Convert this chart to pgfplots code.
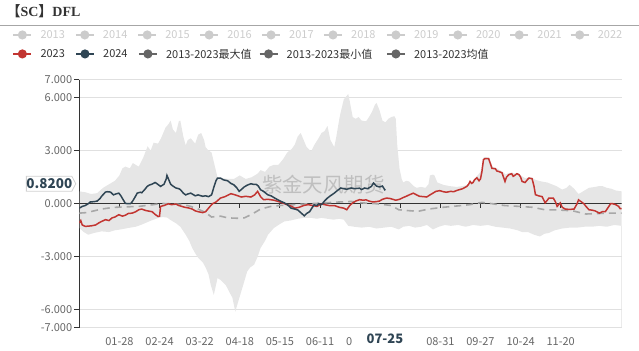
\documentclass[border=0pt]{standalone}
\usepackage{fontspec}
\setmainfont{Noto Sans CJK SC}
\newfontfamily\serifb{Liberation Serif}
\usepackage{pgfplots}
\pgfplotsset{compat=1.18}
\usepgfplotslibrary{fillbetween}
\definecolor{cred}{HTML}{C23531}
\definecolor{cblue}{HTML}{2F4554}
\definecolor{cband}{HTML}{E6E6E6}
\definecolor{cmean}{HTML}{A8A8A8}
\definecolor{cgrid}{HTML}{E0E0E0}
\definecolor{caxis}{HTML}{333333}
\definecolor{clab}{HTML}{666666}
\definecolor{cinact}{HTML}{CCCCCC}
\definecolor{cdark}{HTML}{666666}
\definecolor{ctext}{HTML}{333333}
\newcommand\legitem[5]{%
  \draw[#3, line width=1.5bp] (#1-9,#2) -- (#1+9,#2);
  \fill[#3] (#1,#2) circle (4.6);
  \node[anchor=west, inner sep=0pt, text=#5, font=\fontsize{11bp}{13bp}\selectfont] at (#1+18,#2) {#4};}
\begin{document}
\begin{tikzpicture}
\begin{scope}[x=1bp,y=1bp]
\path (0,0) rectangle (639,351);
% title
\node[anchor=base west, inner sep=0pt, text=ctext, font=\fontsize{14bp}{16bp}\selectfont] at (6,334)
  {{\bfseries【}{\serifb\bfseries SC}{\bfseries】}{\serifb\bfseries DFL}};
\draw[color=black!35, line width=0.8bp] (0,326) -- (639,326);
% legend row 1
\legitem{22}{316}{cinact}{2013}{cinact}
\legitem{84.5}{316}{cinact}{2014}{cinact}
\legitem{147}{316}{cinact}{2015}{cinact}
\legitem{209}{316}{cinact}{2016}{cinact}
\legitem{271}{316}{cinact}{2017}{cinact}
\legitem{333}{316}{cinact}{2018}{cinact}
\legitem{396}{316}{cinact}{2019}{cinact}
\legitem{458}{316}{cinact}{2020}{cinact}
\legitem{519.5}{316}{cinact}{2021}{cinact}
\legitem{580}{316}{cinact}{2022}{cinact}
% legend row 2
\legitem{22}{297}{cred}{2023}{ctext}
\legitem{84.7}{297}{cblue}{2024}{ctext}
\legitem{147.7}{297}{cdark}{2013-2023最大值}{ctext}
\legitem{268.5}{297}{cdark}{2013-2023最小值}{ctext}
\legitem{396}{297}{cdark}{2013-2023均值}{ctext}
\end{scope}

\begin{axis}[
  at={(79bp,23bp)}, anchor=south west,
  scale only axis, width=543bp, height=248bp,
  xmin=0, xmax=365, ymin=-7, ymax=7,
  axis y line*=left, axis x line*=bottom,
  y axis line style={draw=caxis, line width=0.9bp, -},
  x axis line style={draw=cgrid, line width=0.9bp, -},
  ytick={-7,-6,-3,0,3,6,7},
  yticklabels={-7.000,-6.000,-3.000,0.000,3.000,6.000,7.000},
  ymajorgrids, grid style={draw=cgrid, line width=0.9bp},
  tick align=outside, major tick length=5bp,
  ytick style={draw=caxis, line width=0.9bp},
  xtick={27,54,81,108,135,162,189,243,270,297,324},
  xticklabels={01-28,02-24,03-22,04-18,05-15,06-11,07-08,08-31,09-27,10-24,11-20},
  xtick style={draw=none},
  xticklabel style={anchor=base, yshift=-12.5bp, inner sep=0pt},
  yticklabel style={anchor=east, inner sep=0pt, xshift=-2bp},
  tick label style={font=\fontsize{11bp}{13bp}\selectfont, text=clab},
]
\addplot[draw=none, name path=max] coordinates {
(0,0.7)(4,0.65)(8,0.55)(12,0.6)(16,0.9)(20,1.1)(24,1.3)(27,1.6)(29,2.0)(31,2.1)(34,2.0)(36,2.3)(38,2.2)(40,2.1)(43,2.6)(46,3.25)(48,3.0)(50,3.45)(53,3.4)(55,3.7)(58,4.3)(60,4.5)(61.5,4.7)(63,4.2)(65,4.0)(67,4.66)(68,4.7)(70,3.8)(71.6,3.3)(73,3.6)(75,3.7)(78,3.4)(80,3.9)(82,4.0)(84,3.6)(85,3.2)(87,3.0)(89,2.9)(91,2.2)(93,1.5)(96,1.45)(100,1.4)(104,1.4)(108,1.6)(112,1.4)(116,1.5)(120,1.7)(122,1.9)(125,1.8)(128,2.1)(131,2.2)(134,2.2)(137,2.5)(140,2.9)(143,3.1)(145,3.34)(147,3.8)(149,4.0)(151,3.6)(153,3.2)(156,2.96)(158,3.3)(161,3.7)(163,4.0)(165,4.1)(167,4.4)(169,3.6)(171.6,3.2)(173,3.8)(175,4.8)(176,5.2)(178,5.9)(180,6.1)(181,6.2)(182,5.8)(184,4.9)(186,4.8)(188,4.9)(190,4.7)(193,4.66)(195,4.9)(197,5.2)(199,5.6)(200,5.7)(202,5.3)(204,4.7)(206,4.6)(208,4.8)(210,4.9)(212,4.95)(213,4.8)(214,3.3)(215.5,2.0)(217,1.4)(218,1.2)(220,1.3)(222,1.26)(225,1.0)(227,0.9)(230,0.95)(233,0.9)(235,1.1)(236,1.6)(238,1.65)(239,1.6)(241,1.2)(245,1.07)(249,1.0)(254,0.95)(258,1.0)(261,1.05)(265,1.3)(268,1.6)(270,1.8)(271,2.2)(272,2.6)(273,2.65)(276,2.6)(278,2.1)(281,2.0)(283,1.9)(285,1.8)(287,1.65)(289,1.75)(291,1.75)(294,1.7)(297,1.6)(300,1.45)(303,1.5)(305,1.45)(307,1.35)(311,1.26)(315,1.2)(318,1.1)(321,1.0)(325,0.8)(328,0.9)(330,1.07)(333,0.85)(336,0.55)(339,0.7)(343,0.9)(347,0.95)(350,1.0)(352,1.0)(355,0.9)(358,0.85)(361,0.75)(365,0.7)
};
\addplot[draw=none, name path=min] coordinates {
(0,-1.37)(3,-1.6)(6,-1.75)(10,-1.65)(15,-1.56)(20,-1.6)(24,-1.5)(28,-1.45)(33,-1.37)(38,-1.3)(42,-1.18)(47,-1.0)(50,-0.9)(53,-0.81)(56,-0.75)(59,-0.78)(62,-0.95)(65,-1.1)(68,-1.3)(71.6,-1.75)(74,-2.1)(76,-2.5)(78,-2.8)(80,-3.06)(83,-3.3)(85,-3.6)(87,-4.0)(88.5,-4.6)(90.5,-5.15)(92,-4.6)(93,-4.2)(95,-4.3)(98.6,-4.6)(101,-5.0)(103,-5.3)(105,-6.1)(106,-5.8)(109,-4.96)(111,-4.4)(113,-3.83)(115,-3.6)(117.6,-3.45)(120,-3.0)(122,-2.5)(125,-2.1)(127,-1.75)(131,-1.37)(134,-1.2)(138,-1.0)(142,-0.95)(147,-0.85)(151,-0.8)(156,-0.8)(160,-0.85)(163,-0.8)(167,-0.85)(171,-0.9)(175,-0.85)(178,-0.9)(181,-1.25)(185,-1.3)(190,-1.35)(195,-1.3)(200,-1.4)(205,-1.35)(210,-1.3)(215,-1.45)(218,-1.3)(222,-1.25)(226,-1.35)(230,-1.3)(234,-1.2)(238,-1.45)(242,-1.3)(246,-1.2)(250,-1.25)(255,-1.2)(260,-1.3)(265,-1.2)(270,-1.25)(275,-1.2)(280,-1.3)(285,-1.35)(290,-1.4)(295,-1.5)(298,-1.6)(302,-1.6)(306,-1.75)(310,-1.85)(313,-1.7)(316,-1.65)(320,-1.5)(325,-1.4)(330,-1.35)(335,-1.35)(340,-1.3)(345,-1.3)(350,-1.25)(355,-1.3)(360,-1.2)(365,-1.25)
};
\addplot[fill=cband, draw=none] fill between[of=max and min];
\node[text=black!25, font=\fontsize{20.5bp}{22bp}\selectfont] at (axis cs:164.3,1.07) {紫金天风期货};
\draw[cgrid, line width=0.9bp] (axis cs:365,-7) -- (axis cs:365,-1.25);
\draw[caxis, line width=0.9bp] (axis cs:0,-7) -- (axis cs:0,7);
\draw[caxis, line width=0.9bp] (axis cs:0,0) -- (axis cs:365,0);
\pgfplotsinvokeforeach{27,54,81,108,135,162,189,216,243,270,297,324}{
  \draw[caxis, line width=0.9bp] (axis cs:#1,0) -- ++(0pt,-4bp);
}
\addplot[cmean, line width=1.6bp, dash pattern=on 7bp off 5bp] coordinates {
(0,-0.53)(5,-0.5)(10,-0.4)(15,-0.3)(20,-0.24)(25,-0.2)(30,-0.18)(40,-0.15)(50,-0.05)(55,0.02)(60,0.0)(65,-0.02)(70,-0.05)(75,-0.15)(80,-0.3)(85,-0.5)(89,-0.75)(95,-0.7)(100,-0.8)(106,-0.82)(111,-0.8)(116,-0.6)(122,-0.3)(129,-0.15)(135,-0.1)(145,-0.05)(155,0.0)(165,0.05)(175,0.1)(183,0.13)(190,0.05)(200,0.0)(210,-0.1)(215,-0.34)(220,-0.38)(228,-0.43)(235,-0.3)(245,-0.2)(255,-0.12)(263,-0.05)(271,0.08)(278,0.0)(286,-0.1)(296,-0.15)(305,-0.2)(314,-0.35)(322,-0.35)(332,-0.4)(341,-0.58)(350,-0.55)(358,-0.53)(365,-0.53)
};
\addplot[cred, line width=1.5bp] coordinates {
(0,-1.09)(1,-0.95)(2,-1.2)(4,-1.28)(8,-1.25)(11,-1.2)(13,-1.09)(15,-1.0)(17.6,-0.9)(20,-0.95)(22,-0.8)(24,-0.75)(26.6,-0.62)(29,-0.7)(31,-0.65)(33,-0.55)(35.6,-0.53)(38,-0.45)(40,-0.34)(42,-0.3)(44.6,-0.38)(47,-0.42)(49,-0.45)(51,-0.6)(53,-0.72)(54,-0.7)(54.7,-0.15)(57,-0.1)(60,0.0)(62,-0.05)(65,-0.02)(67,-0.1)(69,-0.15)(71,-0.2)(73.6,-0.24)(76,-0.3)(78,-0.4)(80,-0.45)(83,-0.5)(85,-0.45)(86,-0.35)(88,-0.15)(89.6,0.0)(92,0.1)(95,0.32)(98,0.4)(102,0.57)(105,0.5)(109,0.38)(112,0.42)(115.5,0.38)(118,0.5)(120,0.7)(122,0.4)(124,0.23)(127,0.25)(131,0.2)(135,0.1)(140,-0.06)(143,-0.15)(145,-0.25)(148,-0.2)(151,-0.1)(154,-0.05)(157,-0.1)(160,-0.15)(163,0.0)(165,-0.05)(168,-0.1)(171.6,-0.1)(175,-0.2)(178,-0.25)(180,-0.34)(182,-0.1)(184,0.05)(186,0.15)(188.6,0.23)(191,0.2)(193,0.22)(195,0.15)(197.7,0.1)(200,0.12)(202,0.15)(204,0.25)(206.7,0.32)(209,0.3)(211,0.25)(213,0.2)(215.5,0.25)(218,0.35)(220,0.42)(222,0.5)(224.8,0.6)(227,0.5)(229,0.42)(232,0.4)(233.8,0.38)(236,0.5)(238,0.6)(240,0.7)(242.6,0.74)(245,0.68)(247,0.65)(250,0.7)(252,0.68)(254,0.75)(256,0.8)(258,0.85)(260.8,0.98)(262,1.1)(263,1.26)(264,1.15)(265,1.2)(266,1.35)(267.6,1.47)(269,1.3)(270,1.4)(271,1.83)(272,2.49)(273,2.55)(275.5,2.55)(276.5,2.3)(277.7,2.0)(280,1.98)(281,1.85)(282,1.83)(284.5,1.75)(285.5,1.5)(286.5,1.26)(287.5,1.5)(289,1.64)(291,1.7)(292,1.55)(293,1.6)(294.5,1.7)(296,1.64)(297,1.5)(298,1.26)(300,1.2)(302.5,1.45)(304.7,1.42)(306,1.0)(307,0.51)(309,0.45)(311.5,0.4)(313.5,0.05)(315,0.2)(316,0.32)(319,0.32)(320.5,0.1)(321.6,-0.15)(323.7,0.05)(325,-0.2)(327,-0.3)(330,-0.32)(333,-0.3)(335,0.0)(336,0.22)(338,0.1)(339.6,0.0)(341,-0.15)(343,-0.34)(345,-0.36)(347,-0.4)(350,-0.53)(352,-0.45)(354,-0.45)(356,-0.2)(357.6,0.0)(359,0.0)(361,-0.05)(363,-0.15)(364,-0.28)(365,-0.28)
};
\addplot[cblue, line width=1.5bp] coordinates {
(0,-0.25)(2,-0.15)(4,-0.1)(6,0.0)(7.4,0.1)(10,0.12)(12,0.15)(14,0.3)(15,0.42)(17.6,0.66)(19,0.68)(21,0.66)(23,0.5)(24.5,0.55)(26.6,0.6)(28,0.45)(29,0.3)(31,0.02)(33,0.0)(34.4,0.0)(35.5,0.1)(36.5,0.23)(38,0.45)(39,0.6)(41,0.65)(42,0.62)(44,0.8)(45.7,0.98)(47,1.05)(49,1.11)(51,1.2)(52,1.15)(54.7,0.98)(56,1.05)(57,1.1)(58.5,1.4)(59,1.6)(60,1.4)(61.5,1.1)(63,1.0)(65,0.89)(67,0.85)(68,0.8)(70,0.6)(71.6,0.5)(73,0.55)(75,0.6)(77,0.5)(78,0.45)(80,0.5)(83,0.42)(85,0.45)(87,0.4)(89,0.5)(89.6,0.66)(90.7,0.98)(92,1.3)(93,1.45)(95,1.45)(97,1.35)(99.8,1.3)(102,1.15)(104,1.07)(106,0.9)(107.6,0.7)(109,0.8)(111,0.95)(113,1.05)(115.5,1.13)(117,1.1)(119,1.1)(120.5,1.0)(122,0.79)(124,0.7)(126.8,0.51)(129,0.45)(131,0.35)(133,0.25)(135.8,0.13)(138,0.05)(140,-0.05)(142.6,-0.25)(145,-0.3)(147,-0.35)(149,-0.5)(151.4,-0.68)(153,-0.55)(155,-0.45)(156.5,-0.25)(158,-0.06)(160,-0.1)(161,0.0)(163,-0.05)(165,0.15)(167,0.32)(169,0.45)(171.6,0.6)(173,0.7)(176,0.89)(178,0.85)(180,0.82)(183,0.89)(185,0.85)(188.6,0.88)(190,0.8)(192,0.89)(194,0.85)(196.6,0.98)(198,1.17)(200,1.0)(202,0.95)(204,1.0)(205.6,0.79)(206,0.82)
};
\end{axis}
\begin{scope}[x=1bp,y=1bp]
% x axis pointer label
\fill[white] (352,0) rectangle (419,20);
\node[anchor=base, inner sep=0pt, text=cblue, font=\fontsize{13bp}{15bp}\selectfont\bfseries] at (385,7.5) {07-25};
% y axis pointer label
\draw[fill=white, draw=black!18, line width=0.8bp] (26,159.5) -- (71.5,159.5) -- (75.5,167) -- (71.5,174.5) -- (26,174.5) -- cycle;
\node[inner sep=0pt, text=cblue, font=\fontsize{13.5bp}{15bp}\selectfont\bfseries] at (49,167) {0.8200};
\end{scope}
\end{tikzpicture}
\end{document}
